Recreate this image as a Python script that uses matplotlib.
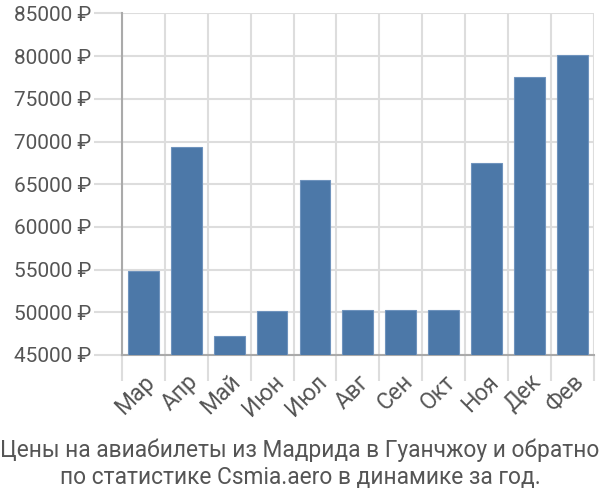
import numpy as np
import matplotlib
matplotlib.use('Agg')
import matplotlib.pyplot as plt

months = ['Мар', 'Апр', 'Май', 'Июн', 'Июл', 'Авг', 'Сен', 'Окт', 'Ноя', 'Дек', 'Фев']
prices = [54800, 69400, 47200, 50200, 65500, 50300, 50300, 50300, 67500, 77600, 80150]
yticks = list(range(45000, 85001, 5000))
title = 'Цены на авиабилеты из Мадрида в Гуанчжоу и обратно\nпо статистике Csmia.aero в динамике за год.'

plt.rcParams['font.family'] = ['Roboto', 'DejaVu Sans']

fig = plt.figure(figsize=(6, 5), dpi=100)
ax = fig.add_axes([0.203, 0.29, 0.787, 0.683])

x = np.arange(len(months))
ax.bar(x, prices, width=0.72, color='#4c78a8', edgecolor='#6f93bd', linewidth=0.8, zorder=3)

ax.set_xlim(-0.5, len(months) - 0.5)
ax.set_ylim(45000, 85000)
ax.set_yticks(yticks)
ax.set_yticklabels([f'{v} ₽' for v in yticks])
ax.set_xticks(x)
ax.set_xticklabels(months, rotation=45, ha='right', rotation_mode='anchor')
ax.set_xticks(np.arange(len(months) + 1) - 0.5, minor=True)

ax.tick_params(axis='x', which='major', length=0, pad=11, labelsize=16.5, labelcolor='#555555')
ax.tick_params(axis='x', which='minor', length=19, color='#dddddd', width=1.5)
ax.tick_params(axis='y', length=20, color='#dddddd', width=1.5, pad=2, labelsize=15, labelcolor='#555555')

ax.grid(True, which='minor', axis='x', color='#dddddd', linewidth=1.5, zorder=0)
ax.grid(True, which='major', axis='y', color='#dddddd', linewidth=1.5, zorder=0)

for side in ['top', 'right']:
    ax.spines[side].set_visible(False)
ax.spines['left'].set_color('#aaaaaa')
ax.spines['bottom'].set_color('#aaaaaa')
ax.spines['left'].set_linewidth(1.5)
ax.spines['bottom'].set_linewidth(1.5)

fig.text(0.5, 0.022, title, ha='center', va='bottom', fontsize=16.4, color='#555555', linespacing=1.2)

fig.savefig('out.png', dpi=100)
